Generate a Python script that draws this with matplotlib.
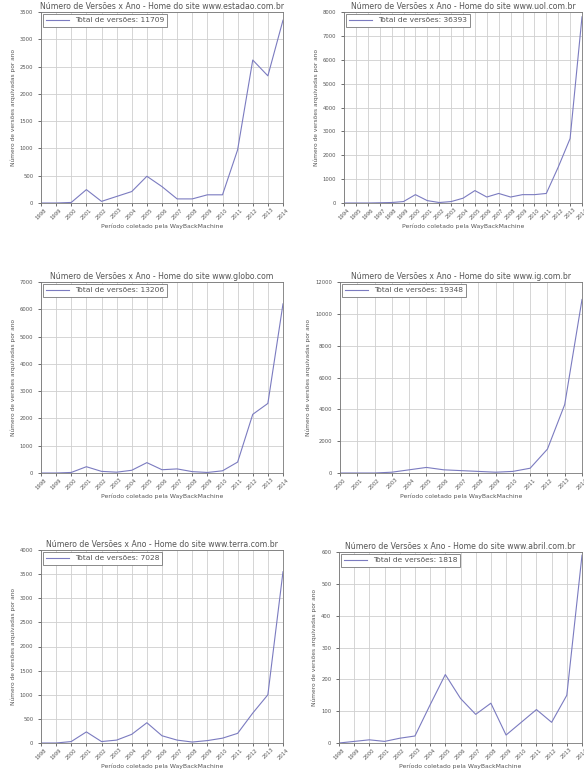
import matplotlib
matplotlib.use('Agg')
import matplotlib.pyplot as plt

# dados (versoes arquivadas por ano)
anos_17 = [str(a) for a in range(1998, 2015)]
anos_21 = [str(a) for a in range(1994, 2015)]
anos_15 = [str(a) for a in range(2000, 2015)]

estadao = [0, 0, 10, 245, 30, 120, 210, 490, 300, 75, 75, 150, 150, 975, 2620, 2330, 3350]
uol = [0, 0, 0, 10, 20, 60, 350, 100, 20, 60, 200, 520, 250, 400, 250, 350, 350, 400, 1500, 2700, 7800]
globo = [0, 0, 20, 230, 60, 30, 100, 380, 120, 150, 50, 20, 80, 400, 2150, 2550, 6200]
ig = [0, 0, 0, 50, 200, 350, 200, 150, 100, 50, 100, 300, 1500, 4300, 10900]
terra = [0, 0, 30, 230, 30, 60, 180, 420, 150, 60, 20, 50, 100, 200, 620, 1000, 3550]
abril = [0, 5, 10, 5, 15, 22, 120, 215, 140, 90, 125, 25, 65, 105, 65, 150, 590]

sites = ['www.estadao.com.br', 'www.uol.com.br', 'www.globo.com',
         'www.ig.com.br', 'www.terra.com.br', 'www.abril.com.br']
totais = [11709, 36393, 13206, 19348, 7028, 1818]
series = [estadao, uol, globo, ig, terra, abril]
rotulos = [anos_17, anos_21, anos_17, anos_15, anos_17, anos_17]
ymax = [3500, 8000, 7000, 12000, 4000, 600]
ystep = [500, 1000, 1000, 2000, 500, 100]

# posicao dos eixos em pixels: esquerda, direita, topo, base
caixas = [(41, 283, 12, 203), (344, 582, 12, 203),
          (41, 283, 282, 473), (340, 582, 282, 473),
          (41, 283, 550, 743), (339, 582, 552, 743)]

W, H = 584, 769
fig = plt.figure(figsize=(W / 100, H / 100), dpi=100)
cor_texto = '#555555'

for i in range(6):
    l, r, t, b = caixas[i]
    ax = fig.add_axes([l / W, 1 - b / H, (r - l) / W, (b - t) / H])
    x = list(range(len(series[i])))
    ax.plot(x, series[i], color='#7b7bc0', lw=0.8,
            label='Total de versões: %d' % totais[i])
    ax.set_xlim(0, len(x) - 1)
    ax.set_ylim(0, ymax[i])
    ax.set_yticks(range(0, ymax[i] + 1, ystep[i]))
    ax.set_xticks(x)
    ax.set_xticklabels(rotulos[i], rotation=45, fontsize=3.8, color=cor_texto)
    ax.tick_params(axis='y', labelsize=3.8, labelcolor=cor_texto, length=2, width=0.4)
    ax.tick_params(axis='x', length=2, width=0.4, pad=1)
    ax.grid(True, color='#cfcfcf', lw=0.6)
    for s in ax.spines.values():
        s.set_color('#777777')
        s.set_linewidth(0.6)
    ax.set_title('Número de Versões x Ano - Home do site ' + sites[i],
                 fontsize=5.6, color=cor_texto, pad=2)
    ax.set_xlabel('Período coletado pela WayBackMachine', fontsize=4.4,
                  color=cor_texto, labelpad=2)
    ax.set_ylabel('Número de versões arquivadas por ano', fontsize=4.2,
                  color=cor_texto, labelpad=3)
    leg = ax.legend(loc='upper left', fontsize=5.4, handlelength=3,
                    borderpad=0.4, fancybox=False, framealpha=1,
                    borderaxespad=0.3)
    leg.get_frame().set_edgecolor('#777777')
    leg.get_frame().set_linewidth(0.6)
    for txt in leg.get_texts():
        txt.set_color(cor_texto)

fig.savefig('out.png', dpi=100)
